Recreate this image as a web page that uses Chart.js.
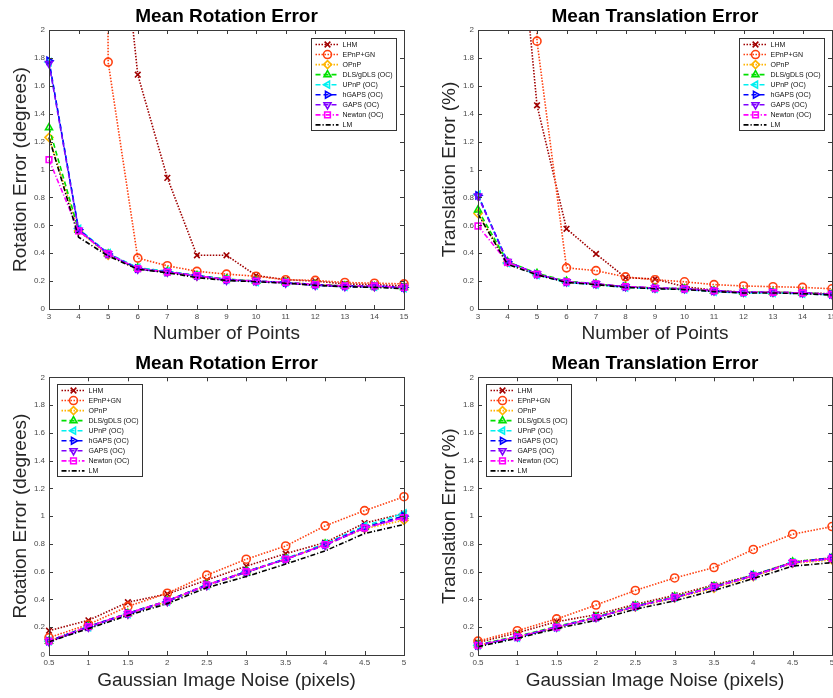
<!DOCTYPE html>
<html>
<head>
<meta charset="utf-8">
<script src="https://cdn.jsdelivr.net/npm/chart.js@4.4.1/dist/chart.umd.min.js"></script>
<style>
  html, body { margin: 0; padding: 0; background: #fff; overflow: hidden; width: 833px; height: 698px; }
  canvas { position: absolute; }
</style>
</head>
<body>
<canvas id="rotPoints" width="416" height="345" style="left:0;top:0"></canvas>
<canvas id="transPoints" width="430" height="345" style="left:415px;top:0"></canvas>
<canvas id="rotNoise" width="416" height="353" style="left:0;top:345px"></canvas>
<canvas id="transNoise" width="430" height="353" style="left:415px;top:345px"></canvas>
<script>
const methods = ['LHM', 'EPnP+GN', 'OPnP', 'DLS/gDLS (OC)', 'UPnP (OC)', 'hGAPS (OC)', 'GAPS (OC)', 'Newton (OC)', 'LM'];

const pointCounts = [3, 4, 5, 6, 7, 8, 9, 10, 11, 12, 13, 14, 15];
const noiseLevels = [0.5, 1, 1.5, 2, 2.5, 3, 3.5, 4, 4.5, 5];
const errorTicks = [0, 0.2, 0.4, 0.6, 0.8, 1, 1.2, 1.4, 1.6, 1.8, 2];

// rotation error (degrees) vs number of points
const rotPtsLHM    = [15, 8, 3.7, 1.68, 0.94, 0.385, 0.385, 0.24, 0.21, 0.2, 0.18, 0.175, 0.165];
const rotPtsEPnP   = [80, 40, 1.77, 0.365, 0.31, 0.27, 0.25, 0.235, 0.21, 0.205, 0.19, 0.185, 0.18];
const rotPtsOPnP   = [1.23, 0.56, 0.385, 0.29, 0.265, 0.235, 0.21, 0.2, 0.19, 0.175, 0.165, 0.16, 0.155];
const rotPtsDLS    = [1.3, 0.565, 0.395, 0.295, 0.27, 0.24, 0.215, 0.2, 0.19, 0.175, 0.165, 0.16, 0.155];
const rotPtsUPnP   = [1.77, 0.575, 0.4, 0.295, 0.27, 0.24, 0.21, 0.195, 0.19, 0.17, 0.16, 0.16, 0.15];
const rotPtsHGAPS  = [1.78, 0.57, 0.395, 0.29, 0.265, 0.24, 0.21, 0.2, 0.19, 0.175, 0.165, 0.165, 0.155];
const rotPtsGAPS   = [1.76, 0.565, 0.395, 0.285, 0.265, 0.235, 0.205, 0.2, 0.185, 0.17, 0.16, 0.16, 0.15];
const rotPtsNewton = [1.07, 0.56, 0.395, 0.29, 0.265, 0.24, 0.21, 0.2, 0.19, 0.175, 0.165, 0.165, 0.155];
const rotPtsLM     = [1.23, 0.515, 0.38, 0.285, 0.26, 0.225, 0.205, 0.195, 0.185, 0.17, 0.16, 0.155, 0.145];

// translation error (%) vs number of points
const transPtsLHM    = [8, 3.7, 1.46, 0.575, 0.395, 0.225, 0.215, 0.16, 0.135, 0.12, 0.12, 0.115, 0.11];
const transPtsEPnP   = [60, 30, 1.92, 0.295, 0.275, 0.23, 0.21, 0.195, 0.175, 0.165, 0.16, 0.155, 0.145];
const transPtsOPnP   = [0.685, 0.335, 0.25, 0.195, 0.18, 0.16, 0.15, 0.145, 0.13, 0.12, 0.12, 0.115, 0.105];
const transPtsDLS    = [0.71, 0.34, 0.255, 0.2, 0.18, 0.16, 0.15, 0.145, 0.13, 0.12, 0.12, 0.115, 0.105];
const transPtsUPnP   = [0.82, 0.33, 0.245, 0.19, 0.175, 0.155, 0.145, 0.14, 0.125, 0.115, 0.115, 0.11, 0.1];
const transPtsHGAPS  = [0.815, 0.34, 0.25, 0.195, 0.18, 0.16, 0.15, 0.145, 0.13, 0.12, 0.12, 0.115, 0.105];
const transPtsGAPS   = [0.81, 0.34, 0.25, 0.195, 0.18, 0.16, 0.15, 0.145, 0.13, 0.12, 0.12, 0.115, 0.105];
const transPtsNewton = [0.595, 0.335, 0.25, 0.195, 0.18, 0.16, 0.15, 0.145, 0.13, 0.12, 0.12, 0.115, 0.105];
const transPtsLM     = [0.68, 0.32, 0.245, 0.19, 0.175, 0.155, 0.145, 0.14, 0.125, 0.115, 0.115, 0.11, 0.1];

// rotation error (degrees) vs image noise
const rotNoiseLHM    = [0.175, 0.25, 0.38, 0.44, 0.54, 0.64, 0.73, 0.81, 0.95, 1.02];
const rotNoiseEPnP   = [0.125, 0.22, 0.35, 0.445, 0.575, 0.69, 0.785, 0.93, 1.04, 1.14];
const rotNoiseOPnP   = [0.1, 0.2, 0.295, 0.385, 0.5, 0.595, 0.69, 0.795, 0.91, 0.97];
const rotNoiseDLS    = [0.1, 0.205, 0.3, 0.39, 0.505, 0.6, 0.69, 0.8, 0.92, 1.0];
const rotNoiseUPnP   = [0.1, 0.2, 0.295, 0.385, 0.5, 0.6, 0.695, 0.8, 0.93, 1.02];
const rotNoiseHGAPS  = [0.1, 0.205, 0.3, 0.39, 0.505, 0.6, 0.69, 0.795, 0.92, 1.0];
const rotNoiseGAPS   = [0.095, 0.2, 0.295, 0.385, 0.5, 0.595, 0.69, 0.79, 0.915, 0.99];
const rotNoiseNewton = [0.1, 0.205, 0.3, 0.39, 0.505, 0.6, 0.69, 0.795, 0.915, 0.99];
const rotNoiseLM     = [0.095, 0.19, 0.285, 0.37, 0.485, 0.565, 0.655, 0.75, 0.875, 0.94];

// translation error (%) vs image noise
const transNoiseLHM    = [0.09, 0.16, 0.24, 0.29, 0.365, 0.43, 0.505, 0.575, 0.67, 0.7];
const transNoiseEPnP   = [0.1, 0.175, 0.26, 0.36, 0.465, 0.555, 0.63, 0.76, 0.87, 0.925];
const transNoiseOPnP   = [0.07, 0.13, 0.2, 0.27, 0.345, 0.41, 0.48, 0.565, 0.66, 0.685];
const transNoiseDLS    = [0.075, 0.135, 0.205, 0.275, 0.355, 0.42, 0.495, 0.575, 0.67, 0.7];
const transNoiseUPnP   = [0.07, 0.125, 0.2, 0.27, 0.35, 0.415, 0.49, 0.57, 0.665, 0.695];
const transNoiseHGAPS  = [0.07, 0.13, 0.2, 0.27, 0.35, 0.415, 0.49, 0.575, 0.665, 0.7];
const transNoiseGAPS   = [0.07, 0.13, 0.2, 0.27, 0.35, 0.415, 0.49, 0.57, 0.665, 0.695];
const transNoiseNewton = [0.07, 0.13, 0.2, 0.27, 0.35, 0.415, 0.49, 0.57, 0.665, 0.695];
const transNoiseLM     = [0.06, 0.12, 0.19, 0.25, 0.33, 0.39, 0.465, 0.55, 0.64, 0.665];

// matlab-ish line specs, same order as methods
const DOT = [1.5, 1.5];
const DASH = [5, 3];
const DASHDOT = [5, 2, 1.2, 2];
const lineSpecs = [
  { color: '#a00000', dash: DOT, marker: 'crossRot', rot: 0 },
  { color: '#ff4010', dash: DOT, marker: 'circle', rot: 0 },
  { color: '#ffb400', dash: DOT, marker: 'rectRot', rot: 0 },
  { color: '#00e000', dash: DASH, marker: 'triangle', rot: 0 },
  { color: '#00f0f0', dash: DASH, marker: 'triangle', rot: -90 },
  { color: '#0000ff', dash: DASH, marker: 'triangle', rot: 90 },
  { color: '#8000ff', dash: DASH, marker: 'triangle', rot: 180 },
  { color: '#ff00ff', dash: DASHDOT, marker: 'rect', rot: 0 },
  { color: '#000000', dash: DASHDOT, marker: false, rot: 0 }
];

const FONT = 'Arial, "Liberation Sans", Helvetica, sans-serif';
Chart.defaults.font.family = FONT;

// axes box with inward ticks on all four sides, plus the boxed legend
const matlabAxes = {
  id: 'matlabAxes',
  afterDatasetsDraw(chart, args, opts) {
    const { ctx, chartArea: a, scales } = chart;
    const xs = scales.x;
    const ys = scales.y;
    ctx.save();
    ctx.strokeStyle = '#3a3a3a';
    ctx.lineWidth = 1;
    ctx.setLineDash([]);
    ctx.beginPath();
    xs.ticks.forEach((t) => {
      const px = Math.round(xs.getPixelForValue(t.value)) + 0.5;
      ctx.moveTo(px, a.bottom); ctx.lineTo(px, a.bottom - 4);
      ctx.moveTo(px, a.top); ctx.lineTo(px, a.top + 4);
    });
    ys.ticks.forEach((t) => {
      const py = Math.round(ys.getPixelForValue(t.value)) + 0.5;
      ctx.moveTo(a.left, py); ctx.lineTo(a.left + 4, py);
      ctx.moveTo(a.right, py); ctx.lineTo(a.right - 4, py);
    });
    ctx.stroke();
    ctx.strokeRect(Math.round(a.left) + 0.5, Math.round(a.top) + 0.5,
      Math.round(a.right - a.left), Math.round(a.bottom - a.top));

    // legend
    const w = 85;
    const h = 92;
    const bx = Math.round(opts.corner === 'ne' ? a.right - 8 - w : a.left + 8) + 0.5;
    const by = Math.round(a.top + (opts.corner === 'ne' ? 8 : 7)) + 0.5;
    ctx.fillStyle = '#fff';
    ctx.fillRect(bx, by, w, h);
    ctx.strokeStyle = '#333';
    ctx.strokeRect(bx, by, w, h);
    ctx.font = '7px ' + FONT;
    ctx.textBaseline = 'middle';
    ctx.textAlign = 'left';
    methods.forEach((name, i) => {
      const spec = lineSpecs[i];
      const cy = by + 6 + i * 10.05;
      ctx.strokeStyle = spec.color;
      ctx.lineWidth = 1.6;
      ctx.setLineDash(spec.dash);
      ctx.beginPath();
      ctx.moveTo(bx + 4, cy);
      ctx.lineTo(bx + 27, cy);
      ctx.stroke();
      ctx.setLineDash([]);
      if (spec.marker) {
        ctx.fillStyle = 'rgba(255,255,255,0)';
        Chart.helpers.drawPoint(ctx, { pointStyle: spec.marker, rotation: spec.rot, radius: 4, borderWidth: 1.6 }, bx + 16, cy);
      }
      ctx.fillStyle = '#111';
      ctx.fillText(name, bx + 31, cy + 0.5);
    });
    ctx.restore();
  }
};

function makeChart(id, cfg) {
  const datasets = cfg.series.map((ys, i) => {
    const spec = lineSpecs[i];
    return {
      label: methods[i],
      data: cfg.xs.map((x, j) => ({ x: x, y: ys[j] })),
      borderColor: spec.color,
      borderWidth: 1.6,
      borderDash: spec.dash,
      pointStyle: spec.marker,
      pointRotation: spec.rot,
      pointRadius: spec.marker ? 4 : 0,
      pointBorderWidth: 1.6,
      pointBorderColor: spec.color,
      pointBackgroundColor: 'rgba(255,255,255,0)',
      tension: 0,
      fill: false,
      clip: { left: 6, right: 6, top: 0, bottom: 6 },
      order: methods.length - 1 - i
    };
  });

  return new Chart(document.getElementById(id), {
    type: 'line',
    data: { datasets },
    plugins: [matlabAxes],
    options: {
      responsive: false,
      animation: false,
      events: [],
      layout: { padding: { left: 0, right: cfg.padRight, top: 0, bottom: 0 } },
      plugins: {
        legend: { display: false },
        tooltip: { enabled: false },
        title: {
          display: true,
          text: cfg.title,
          fullSize: false,
          color: '#000',
          font: { size: 19, weight: 'bold' },
          padding: { top: cfg.titleTop, bottom: cfg.titleBottom }
        },
        matlabAxes: { corner: cfg.corner }
      },
      scales: {
        x: {
          type: 'linear',
          min: cfg.xs[0],
          max: cfg.xs[cfg.xs.length - 1],
          afterBuildTicks: (s) => { s.ticks = cfg.xs.map((v) => ({ value: v })); },
          afterFit: (s) => { s.height = cfg.xHeight; },
          grid: { display: false, drawTicks: false },
          border: { display: false },
          ticks: { font: { size: 8 }, color: '#4a4a4a', padding: 3, maxRotation: 0, autoSkip: false, callback: (v) => String(v) },
          title: { display: true, text: cfg.xTitle, color: '#262626', font: { size: 19 }, padding: { top: 0, bottom: cfg.xTitleBottom } }
        },
        y: {
          type: 'linear',
          min: 0,
          max: 2,
          afterBuildTicks: (s) => { s.ticks = errorTicks.map((v) => ({ value: v })); },
          afterFit: (s) => { s.width = cfg.yWidth; },
          grid: { display: false, drawTicks: false },
          border: { display: false },
          ticks: { font: { size: 8 }, color: '#4a4a4a', padding: 4, callback: (v) => String(v) },
          title: { display: true, text: cfg.yTitle, color: '#262626', font: { size: 19 }, padding: { top: cfg.yTitleTop, bottom: 0 } }
        }
      }
    }
  });
}

makeChart('rotPoints', {
  title: 'Mean Rotation Error', xTitle: 'Number of Points', yTitle: 'Rotation Error (degrees)',
  xs: pointCounts,
  series: [rotPtsLHM, rotPtsEPnP, rotPtsOPnP, rotPtsDLS, rotPtsUPnP, rotPtsHGAPS, rotPtsGAPS, rotPtsNewton, rotPtsLM],
  corner: 'ne', padRight: 12, yWidth: 49, yTitleTop: 9, titleTop: 5, titleBottom: 2.2, xHeight: 36, xTitleBottom: 0
});

makeChart('transPoints', {
  title: 'Mean Translation Error', xTitle: 'Number of Points', yTitle: 'Translation Error (%)',
  xs: pointCounts,
  series: [transPtsLHM, transPtsEPnP, transPtsOPnP, transPtsDLS, transPtsUPnP, transPtsHGAPS, transPtsGAPS, transPtsNewton, transPtsLM],
  corner: 'ne', padRight: 13, yWidth: 63, yTitleTop: 23.6, titleTop: 5, titleBottom: 2.2, xHeight: 36, xTitleBottom: 0
});

makeChart('rotNoise', {
  title: 'Mean Rotation Error', xTitle: 'Gaussian Image Noise (pixels)', yTitle: 'Rotation Error (degrees)',
  xs: noiseLevels,
  series: [rotNoiseLHM, rotNoiseEPnP, rotNoiseOPnP, rotNoiseDLS, rotNoiseUPnP, rotNoiseHGAPS, rotNoiseGAPS, rotNoiseNewton, rotNoiseLM],
  corner: 'nw', padRight: 12, yWidth: 49, yTitleTop: 9, titleTop: 7.3, titleBottom: 2.2, xHeight: 43, xTitleBottom: 5.6
});

makeChart('transNoise', {
  title: 'Mean Translation Error', xTitle: 'Gaussian Image Noise (pixels)', yTitle: 'Translation Error (%)',
  xs: noiseLevels,
  series: [transNoiseLHM, transNoiseEPnP, transNoiseOPnP, transNoiseDLS, transNoiseUPnP, transNoiseHGAPS, transNoiseGAPS, transNoiseNewton, transNoiseLM],
  corner: 'nw', padRight: 13, yWidth: 63, yTitleTop: 23.6, titleTop: 7.3, titleBottom: 2.2, xHeight: 43, xTitleBottom: 5.6
});
</script>
</body>
</html>
